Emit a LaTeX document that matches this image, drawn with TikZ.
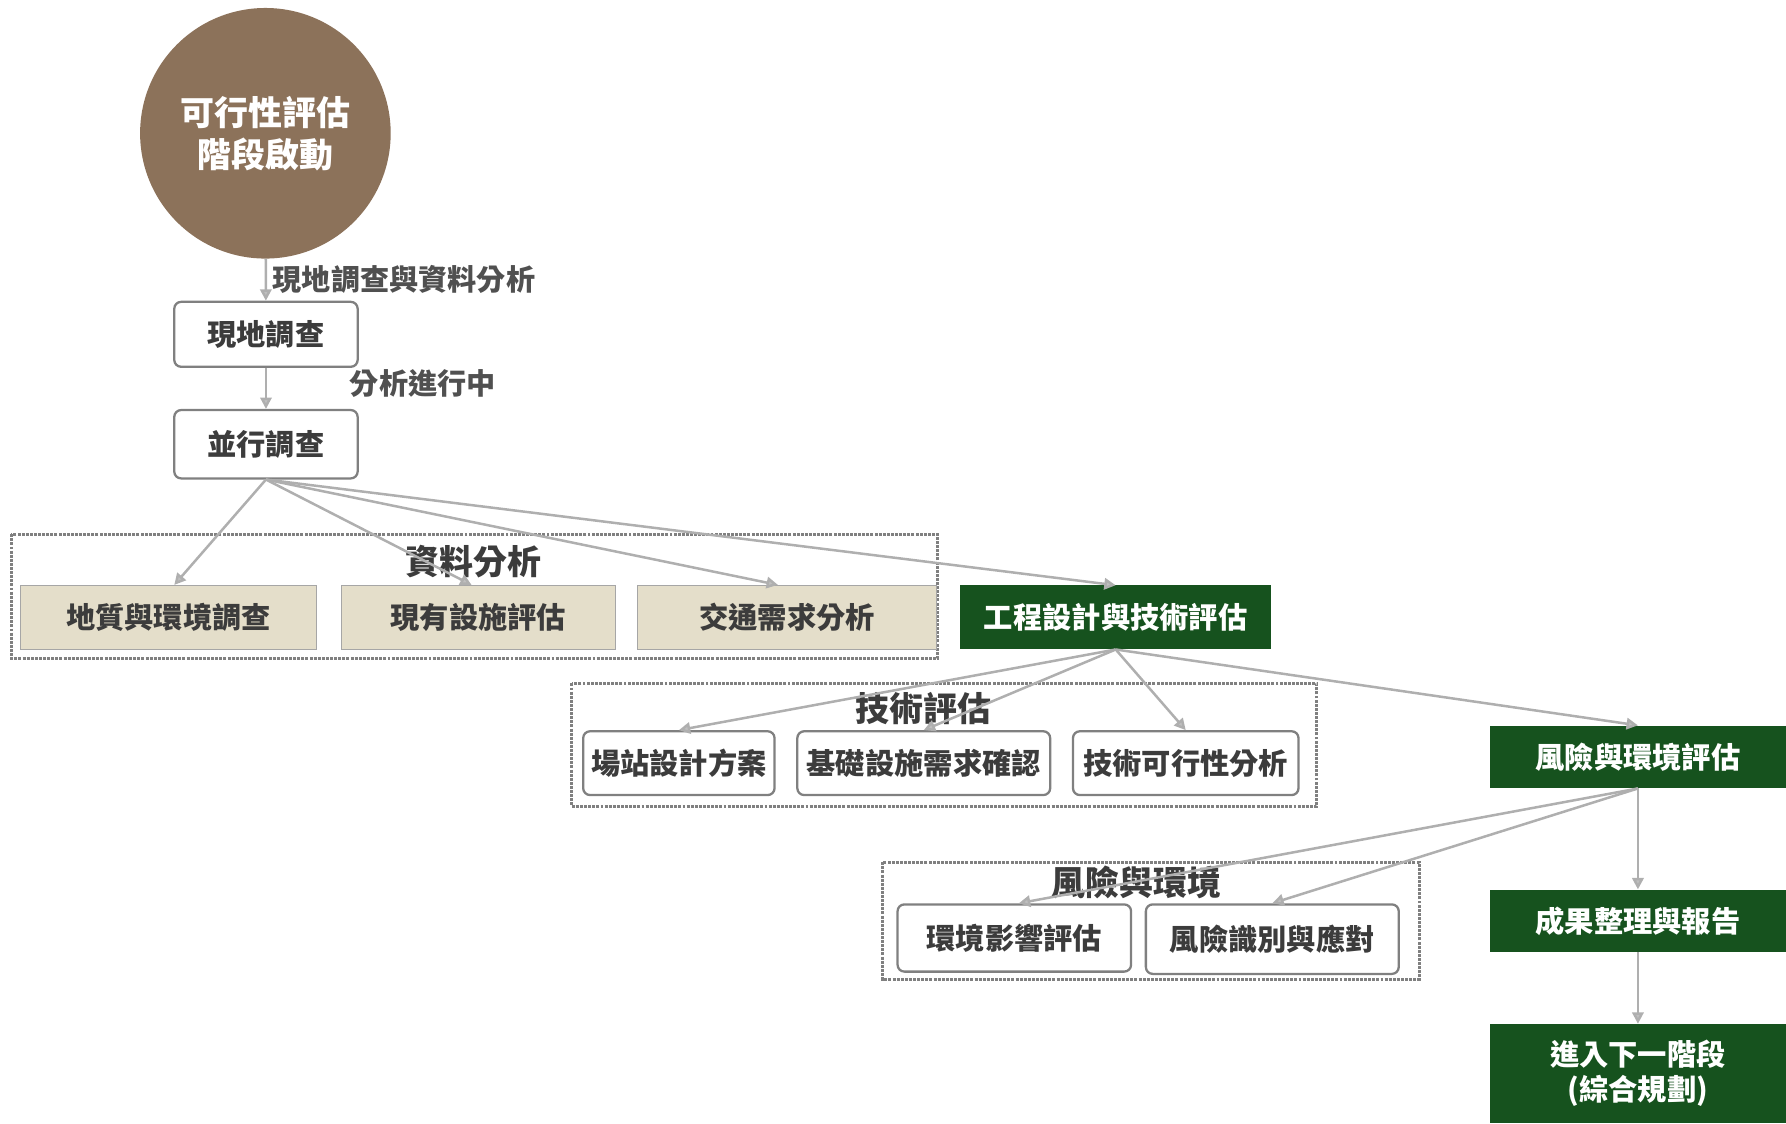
\documentclass[tikz,border=0pt]{standalone}
\usepackage{fontspec}
\setmainfont{Noto Sans CJK TC}
\usetikzlibrary{arrows.meta}
\definecolor{brownc}{RGB}{140,114,90}
\definecolor{darkgreen}{RGB}{22,82,30}
\definecolor{beige}{RGB}{228,222,202}
\definecolor{arrowgray}{RGB}{175,175,175}
\definecolor{txtgray}{RGB}{60,60,60}
\tikzset{
  startc/.style={circle, fill=brownc, minimum size=220pt, inner sep=0pt, text=white,
     font=\fontsize{29.8pt}{37pt}\selectfont\bfseries, align=center},
  whitebox/.style={draw=black!50, line width=2pt, rounded corners=6pt, fill=white,
     text=txtgray, font=\fontsize{25.7pt}{30pt}\selectfont\bfseries, inner sep=0pt},
  beigebox/.style={draw=black!35, line width=1pt, fill=beige, text=txtgray,
     font=\fontsize{25.7pt}{30pt}\selectfont\bfseries, inner sep=0pt},
  greenbox/.style={fill=darkgreen, text=white,
     font=\fontsize{25.7pt}{31pt}\selectfont\bfseries, inner sep=0pt, align=center},
  groupbox/.style={draw=black!50, line width=2.6pt, densely dotted},
  grouplabel/.style={text=txtgray, font=\fontsize{29.8pt}{34pt}\selectfont\bfseries, inner sep=0pt},
  edgelabel/.style={text=txtgray!90, font=\fontsize{25.6pt}{30pt}\selectfont\bfseries, inner sep=0pt},
  conn/.style={draw=arrowgray, line width=2.2pt, -{Triangle[length=10pt,width=10pt,fill=arrowgray!80]}}
}
\begin{document}
\begin{tikzpicture}[x=1pt,y=-1pt]
\useasboundingbox (0,0) rectangle (1568,986);

% groups
\draw[groupbox] (10,469) rectangle (823,578);
\draw[groupbox] (502,600) rectangle (1156,708);
\draw[groupbox] (775,757) rectangle (1246,860);

% nodes
\node[startc] (start) at (233,117) {可行性評估\\階段啟動};
\node[whitebox, minimum width=161pt, minimum height=57pt] (s1) at (233.5,293.5) {現地調查};
\node[whitebox, minimum width=161pt, minimum height=60pt] (s2) at (233.5,390) {並行調查};

\node[beigebox, minimum width=260pt, minimum height=56pt] (d1) at (148,542) {地質與環境調查};
\node[beigebox, minimum width=240pt, minimum height=56pt] (d2) at (420,542) {現有設施評估};
\node[beigebox, minimum width=262pt, minimum height=56pt] (d3) at (691,542) {交通需求分析};
\node[greenbox, minimum width=273pt, minimum height=56pt] (eng) at (979.5,542) {工程設計與技術評估};

\node[whitebox, minimum width=168pt, minimum height=56pt] (t1) at (596,670) {場站設計方案};
\node[whitebox, minimum width=222pt, minimum height=56pt] (t2) at (811,670) {基礎設施需求確認};
\node[whitebox, minimum width=198pt, minimum height=56pt] (t3) at (1041,670) {技術可行性分析};

\node[greenbox, minimum width=260pt, minimum height=55pt] (risk) at (1438,664.5) {風險與環境評估};

\node[whitebox, minimum width=205pt, minimum height=59pt] (r1) at (890.5,823.5) {環境影響評估};
\node[whitebox, minimum width=222pt, minimum height=61pt] (r2) at (1117,824.5) {風險識別與應對};

\node[greenbox, minimum width=260pt, minimum height=55pt] (rep) at (1438,808.5) {成果整理與報告};
\node[greenbox, minimum width=260pt, minimum height=87pt] (next) at (1438,942.5) {進入下一階段\\(綜合規劃)};

% group labels
\node[grouplabel] (gl1) at (416,493) {資料分析};
\node[grouplabel] (gl2) at (811,622) {技術評估};
\node[grouplabel] (gl3) at (998,775) {風險與環境};

% connectors
\draw[conn] (start) -- node[edgelabel, anchor=west, xshift=5pt] (e1) {現地調查與資料分析} (s1);
\draw[conn] (s1) -- (s2);
\node[edgelabel, anchor=west] (e2) at (307,337) {分析進行中};

\draw[conn] (s2.south) -- ([xshift=5pt]d1.north);
\draw[conn] (s2.south) -- ([xshift=-6pt]d2.north);
\draw[conn] (s2.south) -- ([xshift=-8pt]d3.north);
\draw[conn] (s2.south) -- (eng.north);

\draw[conn] (eng.south) -- (t1.north);
\draw[conn] (eng.south) -- (t2.north);
\draw[conn] (eng.south) -- (t3.north);
\draw[conn] (eng.south) -- (risk.north);

\draw[conn] (risk.south) -- ([xshift=4pt]r1.north);
\draw[conn] (risk.south) -- (r2.north);
\draw[conn] (risk.south) -- (rep.north);
\draw[conn] (rep.south) -- (next.north);
\end{tikzpicture}
\end{document}
